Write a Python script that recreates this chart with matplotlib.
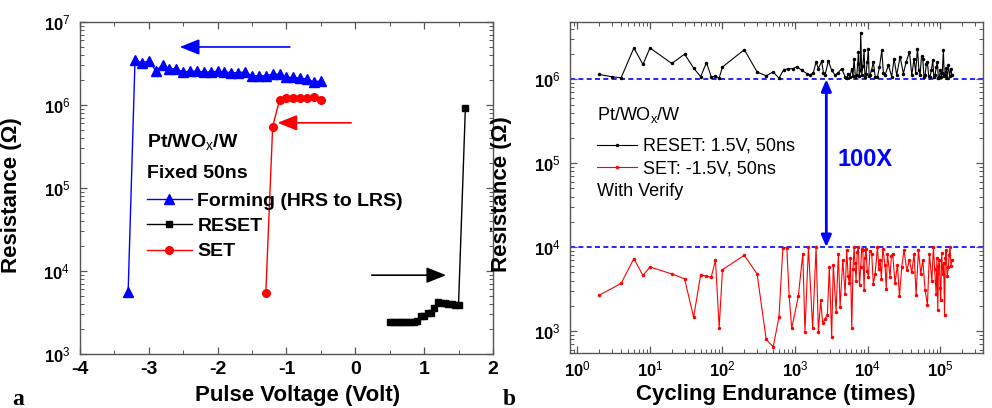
"""resistance vs pulse voltage (a) and cycling endurance (b) for Pt/WOx/W cells"""

import matplotlib.pyplot as plt
from matplotlib.ticker import FuncFormatter, LogLocator, MultipleLocator, NullFormatter
import numpy as np

# (a) pulse voltage sweeps
form_v = [-3.3, -3.2, -3.1, -3.0, -2.9, -2.8, -2.7, -2.6, -2.5, -2.4,
          -2.3, -2.2, -2.1, -2.0, -1.9, -1.8, -1.7, -1.6, -1.5, -1.4,
          -1.3, -1.2, -1.1, -1.0, -0.9, -0.8, -0.7, -0.6, -0.5]
form_r = [5.6e3, 3.5e6, 3.2e6, 3.4e6, 2.6e6, 3.0e6, 2.75e6, 2.7e6, 2.5e6, 2.55e6,
          2.55e6, 2.5e6, 2.5e6, 2.55e6, 2.5e6, 2.45e6, 2.45e6, 2.5e6, 2.25e6, 2.25e6,
          2.25e6, 2.35e6, 2.35e6, 2.15e6, 2.15e6, 2.1e6, 2.05e6, 1.9e6, 1.95e6]

reset_v = [0.5, 0.55, 0.6, 0.65, 0.7, 0.75, 0.8, 0.85, 0.9, 0.95, 1.0,
           1.05, 1.1, 1.15, 1.2, 1.25, 1.3, 1.35, 1.4, 1.45, 1.5, 1.6]
reset_r = [2.4e3, 2.4e3, 2.4e3, 2.4e3, 2.4e3, 2.45e3, 2.45e3, 2.45e3, 2.5e3, 2.9e3, 2.9e3,
           3.1e3, 3.1e3, 3.6e3, 4.2e3, 4.1e3, 4.1e3, 4.0e3, 4.0e3, 3.9e3, 3.9e3, 9.3e5]

set_v = [-1.3, -1.2, -1.1, -1.0, -0.9, -0.8, -0.7, -0.6, -0.5]
set_r = [5.4e3, 5.5e5, 1.15e6, 1.2e6, 1.2e6, 1.2e6, 1.2e6, 1.25e6, 1.15e6]

# (b) endurance, HRS after RESET
hrs_cycle = [2, 3, 4, 6, 8, 10, 20, 30, 40, 50, 60, 70, 80, 90, 100,
             200, 300, 400, 500, 600, 700, 800, 950, 1055, 1240, 1450, 1610, 1790, 1950,
             2100, 2330, 2460, 2590, 2880, 3200, 3560, 3960, 4400, 4900,
             5200, 5440, 5700, 6050, 6300, 6510, 6800, 7100, 7300, 7480,
             7700, 7900, 8050, 8320, 8600, 8960, 9200, 9530, 9900, 10260,
             10500, 10800, 11400, 12000, 12800, 13700, 14600, 15700, 16500, 17400,
             19400, 21500, 23200, 25200, 28100, 31200, 34000, 37800, 40700, 43800,
             46000, 48700, 51000, 53000, 55500, 57700, 60000, 62100, 64500, 66800,
             69500, 72800, 76000, 79300, 82000, 85300, 88500, 91800, 94500, 97800,
             101000, 104000, 107000, 111000, 114000, 117000, 121000, 125000, 130000,
             135000, 141000, 145000]
hrs_ohm = [1.14e6, 1.07e6, 1.04e6, 2.36e6, 1.5e6, 2.36e6, 1.54e6, 1.99e6, 1.36e6, 1.07e6,
           1.58e6, 1.07e6, 1.08e6, 1.04e6, 1.4e6,
           2.25e6, 1.22e6, 1.1e6, 1.22e6, 1.03e6, 1.3e6, 1.33e6, 1.34e6, 1.41e6, 1.28e6,
           1.17e6, 1.12e6, 1.2e6, 1.6e6,
           1.34e6, 1.64e6, 1.2e6, 1.12e6, 1.64e6, 1.28e6, 1.12e6, 1.2e6, 1.34e6, 1.07e6,
           1.03e6, 1.17e6, 1.05e6, 1.34e6, 1.1e6, 1.76e6, 1.05e6, 1.12e6, 1.5e6, 2.11e6,
           1.08e6, 1.3e6, 3.6e6, 1.12e6, 1.45e6, 2.2e6, 1.05e6, 1.17e6, 1.6e6, 2.32e6,
           1.1e6, 1.12e6, 1.3e6, 1.6e6, 1.05e6, 1.07e6, 1.4e6, 2.2e6, 1.2e6, 1.12e6,
           1.47e6, 1.07e6, 1.76e6, 1.12e6, 1.85e6, 1.17e6, 1.6e6, 2.11e6, 1.12e6, 1.76e6,
           1.2e6, 2.32e6, 1.3e6, 1.12e6, 1.9e6, 1.76e6, 1.05e6, 1.12e6, 1.5e6, 1.6e6,
           1.1e6, 1.07e6, 1.3e6, 1.7e6, 1.05e6, 1.12e6, 1.4e6, 1.6e6, 1.04e6, 1.07e6,
           1.3e6, 1.05e6, 1.2e6, 2.2e6, 1.1e6, 1.12e6, 1.35e6, 1.04e6, 1.47e6,
           1.1e6, 1.34e6, 1.12e6]

# (b) endurance, LRS after SET
lrs_cycle = [2, 4, 6, 8, 10, 20, 30, 40, 50, 60, 70, 80, 90, 100,
             200, 300, 400, 500, 600, 680, 770, 830, 900, 1110, 1280, 1370, 1530, 1750, 1950,
             2100, 2260, 2400, 2590, 2790, 2970, 3200, 3370, 3680, 3960, 4180, 4550, 4900,
             5160, 5400, 5610, 5800, 6050, 6300, 6520, 6700, 6940, 7200, 7480, 7750,
             8050, 8300, 8590, 8960, 9200, 9530, 9900, 10260, 10800, 11400, 12000, 12700,
             13700, 14300, 14900, 15500, 16200, 17400, 18100, 18800, 20400, 21300, 22200,
             23900, 25800, 27500, 29600, 31800, 34700, 37800, 40700, 43800, 46700, 50300,
             54200, 57700, 62100, 66800, 71300, 76900, 80900, 84000, 88100, 90500, 92900,
             95000, 97800, 100000, 102000, 105000, 109000, 112000, 115000, 118000, 121000,
             125000, 130000, 133000, 137000, 141000, 145000]
lrs_ohm = [2.68e3, 3.7e3, 7.3e3, 4.6e3, 5.8e3, 4.8e3, 4.2e3, 1.46e3, 4.7e3, 4.5e3, 4.4e3,
           7.0e3, 1.1e3, 5.4e3,
           8.0e3, 4.8e3, 800, 650, 1.46e3, 9.9e3, 9.9e3, 2.6e3, 1.08e3, 2.6e3, 8.4e3, 980,
           1e4, 1.08e3, 1e4,
           980, 2.34e3, 1.24e3, 1.4e3, 1.55e3, 5.8e3, 855, 6.2e3, 1.7e3, 8.4e3, 1.95e3,
           7e3, 2.8e3,
           9.2e3, 4.5e3, 3.7e3, 7.5e3, 1.08e3, 5.5e3, 1e4, 6.5e3, 4e3, 8.8e3, 1e4, 3.5e3,
           5.8e3, 9.5e3, 9.2e3, 3.1e3, 7.5e3, 9.6e3, 5.2e3, 4.4e3, 9e3, 8.4e3, 3.6e3, 4.8e3,
           1e4, 5.5e3, 7e3, 4.2e3, 9.6e3, 6.2e3, 3.2e3, 8.4e3, 4.4e3, 7.8e3, 8.4e3,
           3.7e3, 6.2e3, 2.6e3, 5.8e3, 9.2e3, 5.3e3, 7e3, 5e3, 8.4e3, 2.7e3, 9.2e3,
           4.8e3, 7e3, 3.1e3, 2.04e3, 8.4e3, 4e3, 1e4, 5.5e3, 2.8e3, 7.5e3, 1.78e3,
           6e3, 7e3, 3.3e3, 2.34e3, 8.5e3, 4.8e3, 6.5e3, 1.55e3, 7.5e3, 9.2e3,
           4.5e3, 5.8e3, 8e3, 1e4, 6e3, 7e3]

plt.rcParams['font.family'] = ['Liberation Sans', 'DejaVu Sans']
plt.rcParams['font.weight'] = 'bold'
plt.rcParams['axes.unicode_minus'] = False
plt.rcParams['mathtext.fontset'] = 'custom'
plt.rcParams['mathtext.rm'] = 'Liberation Sans:weight=normal'
plt.rcParams['mathtext.bf'] = 'Liberation Sans:bold'
plt.rcParams['mathtext.it'] = 'Liberation Sans:italic'

SPINE = '#555555'


def pow10_label(v, pos):
    return r'$\mathbf{10}^{\mathrm{%d}}$' % int(round(np.log10(v)))


def style_axes(ax):
    for s in ax.spines.values():
        s.set_color(SPINE)
        s.set_linewidth(1.0)
    ax.tick_params(which='both', direction='in', top=True, right=True, color=SPINE)
    ax.tick_params(which='major', length=5, width=0.9, pad=7)
    ax.tick_params(which='minor', length=3, width=0.7)
    ax.set_yscale('log')
    ax.yaxis.set_major_locator(LogLocator(base=10))
    ax.yaxis.set_minor_locator(LogLocator(base=10, subs=np.arange(2, 10)))
    ax.yaxis.set_major_formatter(FuncFormatter(pow10_label))
    ax.yaxis.set_minor_formatter(NullFormatter())
    ax.tick_params(axis='y', labelsize=12)
    ax.set_ylabel('Resistance (\u03a9)', fontsize=16, fontweight='bold')
    ax.yaxis.set_label_coords(-0.14, 0.48)


fig = plt.figure(figsize=(9.92, 4.08), dpi=100)
ax1 = fig.add_axes([0.0806, 0.1324, 0.4163, 0.8137])
ax2 = fig.add_axes([0.5746, 0.1350, 0.4163, 0.8110])

# ---- panel a ----
style_axes(ax1)
ax1.plot(form_v, form_r, '-^', color='blue', lw=1.0, ms=6.5, label='Forming (HRS to LRS)')
ax1.plot(reset_v, reset_r, '-s', color='black', lw=1.0, ms=5, label='RESET')
ax1.plot(set_v, set_r, '-o', color='red', lw=1.0, ms=5.5, label='SET')
ax1.set_xlim(-4, 2)
ax1.set_ylim(1e3, 1e7)
ax1.xaxis.set_major_locator(MultipleLocator(1))
ax1.xaxis.set_minor_locator(MultipleLocator(0.5))
ax1.tick_params(axis='x', labelsize=14, pad=5)
ax1.set_xlabel('Pulse Voltage (Volt)', fontsize=16, fontweight='bold')
ax1.xaxis.set_label_coords(0.528, -0.093)

arrow_kw = dict(arrowstyle='-|>,head_length=1.0,head_width=0.4', mutation_scale=12,
                lw=1.2, shrinkA=0, shrinkB=0)
ax1.annotate('', xy=(-2.55, 5e6), xytext=(-0.95, 5e6),
             arrowprops=dict(color='blue', **arrow_kw))
ax1.annotate('', xy=(-1.13, 6.1e5), xytext=(-0.06, 6.1e5),
             arrowprops=dict(color='red', **arrow_kw))
ax1.annotate('', xy=(1.32, 8.9e3), xytext=(0.24, 8.9e3),
             arrowprops=dict(color='black', **arrow_kw))

ax1.text(0.162, 0.639, 'Pt/WO$_{\\mathrm{x}}$/W', transform=ax1.transAxes,
         fontsize=14, fontweight='bold', va='center', ha='left')
ax1.text(0.162, 0.545, 'Fixed 50ns', transform=ax1.transAxes,
         fontsize=14, fontweight='bold', va='center', ha='left')
ax1.legend(loc='upper left', bbox_to_anchor=(0.162, 0.488), frameon=False,
           prop={'size': 14, 'weight': 'bold'}, numpoints=1, handlelength=2.3,
           handletextpad=0.3, labelspacing=0.4, borderpad=0, borderaxespad=0)

# ---- panel b ----
style_axes(ax2)
ax2.axhline(1e6, color='blue', lw=1.2, ls=(0, (3, 2)), zorder=1)
ax2.axhline(1e4, color='blue', lw=1.2, ls=(0, (3, 2)), zorder=1)
ax2.plot(hrs_cycle, hrs_ohm, '-', marker='.', color='black', lw=0.8, ms=3,
         label='RESET: 1.5V, 50ns')
ax2.plot(lrs_cycle, lrs_ohm, '-', marker='.', color='red', lw=0.8, ms=3,
         label='SET: -1.5V, 50ns')
ax2.set_xscale('log')
ax2.set_xlim(0.79, 3.9e5)
ax2.set_ylim(550, 4.8e6)
ax2.xaxis.set_major_locator(LogLocator(base=10))
ax2.xaxis.set_minor_locator(LogLocator(base=10, subs=np.arange(2, 10)))
ax2.xaxis.set_major_formatter(FuncFormatter(pow10_label))
ax2.xaxis.set_minor_formatter(NullFormatter())
ax2.tick_params(axis='x', labelsize=12, pad=5)
ax2.set_xlabel('Cycling Endurance (times)', fontsize=16, fontweight='bold')
ax2.xaxis.set_label_coords(0.499, -0.093)

ax2.annotate('', xy=(2700, 1e4), xytext=(2700, 1e6),
             arrowprops=dict(arrowstyle='<|-|>,head_length=0.7,head_width=0.3',
                             mutation_scale=10, color='blue', lw=2,
                             shrinkA=0, shrinkB=0))
ax2.text(3900, 1.1e5, '100X', color='blue', fontsize=17, fontweight='bold',
         va='center', ha='left')

ax2.text(0.065, 0.719, 'Pt/WO$_{\\mathrm{x}}$/W', transform=ax2.transAxes,
         fontsize=13, fontweight='normal', va='center', ha='left')
ax2.legend(loc='upper left', bbox_to_anchor=(0.065, 0.650), frameon=False,
           prop={'size': 13, 'weight': 'normal'}, numpoints=1, handlelength=2.2,
           handletextpad=0.35, labelspacing=0.3, borderpad=0, borderaxespad=0)
ax2.text(0.065, 0.489, 'With Verify', transform=ax2.transAxes,
         fontsize=13, fontweight='normal', va='center', ha='left')

fig.text(0.012, 0.008, 'a', family='Liberation Serif', fontsize=17, fontweight='bold')
fig.text(0.507, 0.008, 'b', family='Liberation Serif', fontsize=17, fontweight='bold')

fig.savefig('out.png', dpi=100)
